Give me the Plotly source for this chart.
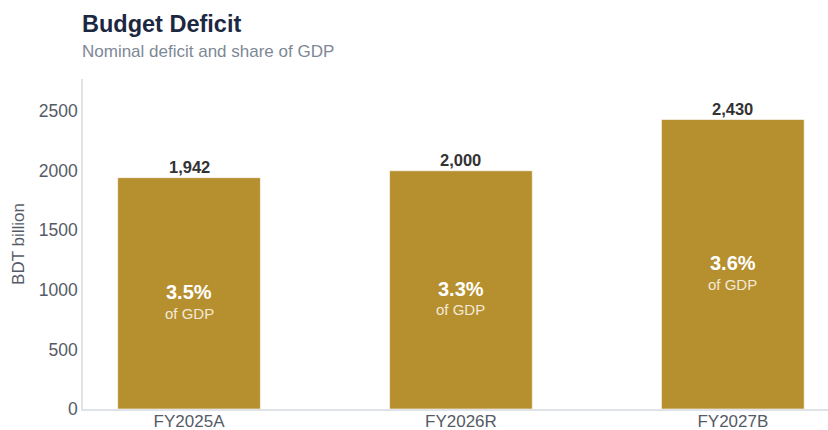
import plotly.graph_objects as go

categories = ["FY2025A", "FY2026R", "FY2027B"]
deficit = [1942, 2000, 2430]
gdp_share = [3.5, 3.3, 3.6]

bar_color = "#b68f2f"
font_family = "Liberation Sans, Arial, sans-serif"

fig = go.Figure()
fig.add_trace(go.Bar(
    x=categories,
    y=deficit,
    marker=dict(color=bar_color, line=dict(color="rgba(255,255,255,0.6)", width=1)),
    hoverinfo="skip",
))

for c, v, s in zip(categories, deficit, gdp_share):
    fig.add_annotation(
        x=c, y=v, text=f"<b>{v:,}</b>", showarrow=False,
        yanchor="bottom", yshift=0,
        font=dict(size=16.5, color="#333333", family=font_family),
    )
    fig.add_annotation(
        x=c, y=v / 2, text=f"<b>{s:.1f}%</b>", showarrow=False,
        yanchor="middle", yshift=1,
        font=dict(size=20, color="white", family=font_family),
    )
    fig.add_annotation(
        x=c, y=v / 2, text="of GDP", showarrow=False,
        yanchor="middle", yshift=-20,
        font=dict(size=15, color="#f3ead6", family=font_family),
    )

PT, PB = 79.0, 409.5
def py(y):
    return (PB - y) / (PB - PT)

fig.add_annotation(
    xref="paper", yref="paper", x=0, y=py(24), xanchor="left", yanchor="middle",
    xshift=-3,
    text="<b>Budget Deficit</b>", showarrow=False,
    font=dict(size=23.5, color="#1c2841", family=font_family),
)
fig.add_annotation(
    xref="paper", yref="paper", x=0, y=py(51), xanchor="left", yanchor="middle",
    xshift=-3,
    text="Nominal deficit and share of GDP", showarrow=False,
    font=dict(size=17, color="#7d8896", family=font_family),
)

fig.update_layout(
    width=828, height=430,
    margin=dict(l=83, r=0, t=PT, b=430 - PB),
    paper_bgcolor="white", plot_bgcolor="white",
    bargap=0.475,
    showlegend=False,
    font=dict(family=font_family, color="#555b66", size=14),
    xaxis=dict(
        range=[-0.39, 2.35], automargin=False,
        showline=True, linecolor="#dfe3e8", linewidth=1.5,
        showgrid=False, ticks="", ticklabelstandoff=-4,
        tickfont=dict(size=17, color="#555b66"),
    ),
    yaxis=dict(
        range=[0, max(deficit) * 1.14], automargin=False,
        showline=True, linecolor="#dfe3e8", linewidth=1.5,
        showgrid=False, zeroline=False, ticks="",
        tickvals=[0, 500, 1000, 1500, 2000, 2500],
        tickfont=dict(size=17.5, color="#555b66"),
        title=dict(text="BDT billion", font=dict(size=17, color="#555b66"), standoff=10),
    ),
)

fig.write_html("out.html")
